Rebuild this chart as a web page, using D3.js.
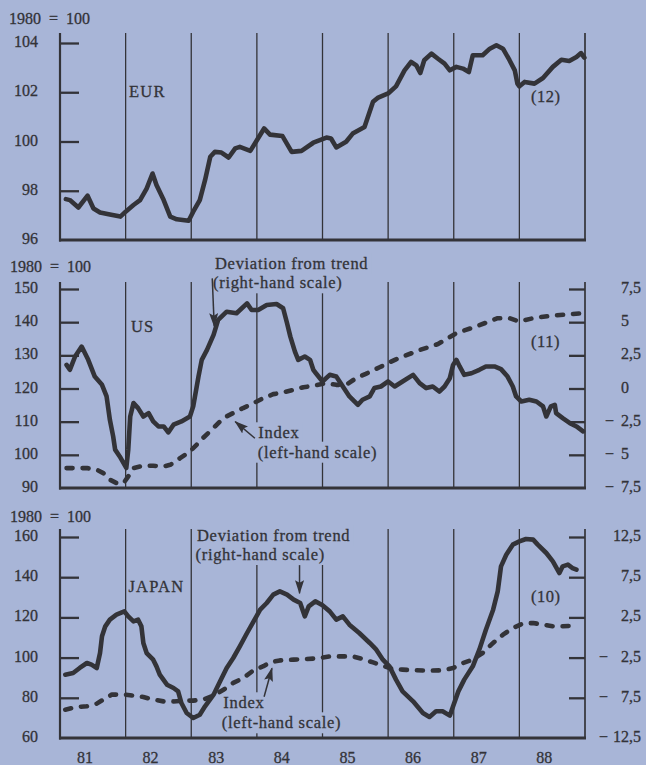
<!DOCTYPE html>
<html>
<head>
<meta charset="utf-8">
<title>Effective exchange rates 1981–88</title>
<script src="https://cdn.jsdelivr.net/npm/d3@7/dist/d3.min.js"></script>
<style>
  html, body { margin: 0; padding: 0; background: #a8b5d7; }
  svg { display: block; }
  text {
    font-family: "Liberation Serif", "Times New Roman", Times, serif;
    fill: #333338; stroke: #333338; stroke-width: 0.3px;
  }
</style>
</head>
<body>
<svg id="chart" width="646" height="765"></svg>
<script>
// ---------------- data (decimal year, value) ----------------
const yearLabels = ["81", "82", "83", "84", "85", "86", "87", "88"];
const labelYears = [1981, 1982, 1983, 1984, 1985, 1986, 1987, 1988];
const yearBreaks = [1982, 1983, 1984, 1985, 1986, 1987, 1988, 1989];

const eurTicks = [96, 98, 100, 102, 104];
const usLeftTicks = [90, 100, 110, 120, 130, 140, 150];
const usRightTicks = [-7.5, -5, -2.5, 0, 2.5, 5, 7.5];
const jpLeftTicks = [60, 80, 100, 120, 140, 160];
const jpRightTicks = [-12.5, -7.5, -2.5, 2.5, 7.5, 12.5];

// EUR effective rate index (1980 = 100)
const eurIndex = [
  [1981.09, 97.66], [1981.15, 97.62], [1981.28, 97.32], [1981.42, 97.80], [1981.51, 97.28],
  [1981.61, 97.12], [1981.76, 97.04], [1981.92, 96.95], [1982.00, 97.15], [1982.12, 97.42],
  [1982.22, 97.62], [1982.32, 98.09], [1982.41, 98.70], [1982.47, 98.23], [1982.58, 97.62],
  [1982.68, 96.95], [1982.78, 96.84], [1982.96, 96.78], [1983.03, 97.15], [1983.13, 97.62],
  [1983.21, 98.43], [1983.29, 99.38], [1983.36, 99.58], [1983.46, 99.55], [1983.57, 99.35],
  [1983.67, 99.72], [1983.74, 99.78], [1983.90, 99.62], [1984.00, 100.05], [1984.11, 100.53],
  [1984.20, 100.28], [1984.39, 100.22], [1984.53, 99.58], [1984.68, 99.62], [1984.86, 99.95],
  [1985.06, 100.16], [1985.13, 100.12], [1985.21, 99.76], [1985.36, 99.99], [1985.46, 100.32],
  [1985.64, 100.59], [1985.77, 101.61], [1985.84, 101.77], [1986.00, 101.95], [1986.12, 102.24],
  [1986.25, 102.89], [1986.35, 103.23], [1986.43, 103.09], [1986.49, 102.78], [1986.55, 103.30],
  [1986.66, 103.57], [1986.76, 103.36], [1986.86, 103.16], [1986.94, 102.89], [1987.04, 103.03],
  [1987.14, 102.96], [1987.23, 102.82], [1987.29, 103.50], [1987.44, 103.50], [1987.55, 103.77],
  [1987.65, 103.91], [1987.75, 103.77], [1987.85, 103.30], [1987.93, 102.89], [1987.97, 102.35],
  [1988.00, 102.24], [1988.08, 102.42], [1988.23, 102.35], [1988.36, 102.58], [1988.51, 103.03],
  [1988.64, 103.32], [1988.76, 103.27], [1988.87, 103.43], [1988.94, 103.59], [1988.99, 103.41]
];

// US: index (left-hand scale) and deviation from trend (right-hand scale)
const usIndex = [
  [1981.10, 96.0], [1981.25, 96.0], [1981.41, 96.0], [1981.56, 95.5], [1981.66, 94.5],
  [1981.76, 92.5], [1981.86, 91.5], [1981.97, 91.5], [1982.04, 93.5], [1982.12, 96.0],
  [1982.27, 96.7], [1982.42, 96.7], [1982.58, 96.5], [1982.68, 97.0], [1982.83, 99.0],
  [1982.98, 101.0], [1983.08, 103.0], [1983.18, 105.1], [1983.34, 108.1], [1983.49, 111.1],
  [1983.64, 112.6], [1983.79, 114.1], [1983.95, 115.6], [1984.10, 117.1], [1984.25, 118.3],
  [1984.40, 118.8], [1984.56, 119.6], [1984.71, 120.4], [1984.86, 120.8], [1985.05, 121.6],
  [1985.21, 121.1], [1985.36, 121.1], [1985.51, 123.1], [1985.66, 124.4], [1985.87, 126.4],
  [1986.12, 128.8], [1986.48, 131.6], [1986.76, 133.4], [1987.04, 136.7], [1987.34, 138.7],
  [1987.67, 141.2], [1987.85, 141.2], [1988.00, 140.2], [1988.21, 141.2], [1988.46, 141.9],
  [1988.77, 142.4], [1988.97, 142.7]
];
const usDeviation = [
  [1981.10, 1.78], [1981.15, 1.41], [1981.23, 2.41], [1981.33, 3.16], [1981.43, 2.16],
  [1981.53, 0.90], [1981.64, 0.28], [1981.71, -0.60], [1981.76, -2.36], [1981.81, -3.61],
  [1981.84, -4.61], [1981.91, -5.12], [1982.01, -5.99], [1982.04, -4.61], [1982.07, -2.11],
  [1982.12, -1.10], [1982.19, -1.48], [1982.27, -2.11], [1982.35, -1.86], [1982.42, -2.48],
  [1982.50, -2.86], [1982.58, -2.86], [1982.65, -3.31], [1982.73, -2.73], [1982.85, -2.48],
  [1982.98, -2.11], [1983.03, -1.35], [1983.11, 0.90], [1983.16, 2.16], [1983.24, 2.91],
  [1983.34, 4.04], [1983.41, 5.17], [1983.54, 5.79], [1983.69, 5.67], [1983.85, 6.42],
  [1983.92, 5.92], [1984.02, 5.92], [1984.15, 6.30], [1984.30, 6.37], [1984.40, 6.05],
  [1984.46, 4.92], [1984.51, 3.91], [1984.58, 2.78], [1984.63, 2.16], [1984.73, 2.41],
  [1984.81, 2.16], [1984.86, 1.41], [1984.90, 1.15], [1985.00, 0.53], [1985.11, 1.03],
  [1985.21, 0.90], [1985.31, 0.15], [1985.41, -0.60], [1985.54, -1.23], [1985.61, -0.85],
  [1985.72, -0.60], [1985.79, 0.03], [1985.89, 0.15], [1986.00, 0.53], [1986.10, 0.15],
  [1986.22, 0.53], [1986.38, 1.03], [1986.48, 0.40], [1986.58, 0.03], [1986.68, 0.15],
  [1986.78, -0.23], [1986.86, 0.15], [1986.94, 0.78], [1986.99, 1.78], [1987.04, 2.16],
  [1987.09, 1.66], [1987.16, 1.03], [1987.27, 1.15], [1987.39, 1.41], [1987.49, 1.66],
  [1987.62, 1.66], [1987.72, 1.46], [1987.82, 0.90], [1987.90, 0.15], [1987.95, -0.60],
  [1988.03, -0.98], [1988.15, -0.85], [1988.26, -0.98], [1988.36, -1.35], [1988.41, -2.11],
  [1988.48, -1.35], [1988.54, -1.23], [1988.56, -1.86], [1988.66, -2.23], [1988.77, -2.61],
  [1988.87, -2.86], [1988.97, -3.23]
];

// Japan: index (left-hand scale) and deviation from trend (right-hand scale)
const japanIndex = [
  [1981.08, 74.1], [1981.25, 75.4], [1981.41, 75.8], [1981.56, 77.1], [1981.66, 79.1],
  [1981.79, 81.6], [1981.97, 81.6], [1982.12, 81.1], [1982.27, 80.4], [1982.42, 79.1],
  [1982.58, 78.2], [1982.73, 78.2], [1982.88, 78.6], [1983.03, 78.6], [1983.18, 79.1],
  [1983.34, 81.1], [1983.49, 84.0], [1983.64, 87.4], [1983.79, 89.8], [1983.95, 93.7],
  [1984.10, 95.7], [1984.20, 97.6], [1984.35, 98.6], [1984.56, 99.0], [1984.76, 99.3],
  [1984.91, 99.6], [1985.11, 100.6], [1985.31, 100.6], [1985.46, 100.6], [1985.61, 99.3],
  [1985.77, 97.6], [1985.92, 96.0], [1986.07, 94.3], [1986.22, 94.0], [1986.43, 93.7],
  [1986.63, 93.5], [1986.83, 93.7], [1986.99, 94.8], [1987.14, 97.3], [1987.29, 99.0],
  [1987.44, 102.3], [1987.60, 107.3], [1987.75, 111.4], [1987.90, 114.7], [1988.05, 116.9],
  [1988.21, 117.2], [1988.36, 116.4], [1988.51, 115.6], [1988.66, 115.6], [1988.87, 115.9]
];
const japanDeviation = [
  [1981.08, -4.62], [1981.20, -4.42], [1981.30, -3.79], [1981.41, -3.17], [1981.48, -3.38],
  [1981.56, -3.79], [1981.61, -1.93], [1981.64, 0.15], [1981.69, 1.39], [1981.76, 2.22],
  [1981.86, 2.84], [1981.98, 3.25], [1982.04, 2.63], [1982.12, 2.01], [1982.19, 2.22],
  [1982.24, 1.39], [1982.27, -0.68], [1982.32, -1.93], [1982.42, -2.76], [1982.47, -3.59],
  [1982.52, -4.62], [1982.63, -5.87], [1982.73, -6.28], [1982.80, -6.70], [1982.85, -8.15],
  [1982.93, -9.39], [1983.03, -10.01], [1983.13, -9.60], [1983.21, -8.56], [1983.34, -7.11],
  [1983.44, -5.45], [1983.54, -3.79], [1983.64, -2.55], [1983.74, -1.10], [1983.85, 0.56],
  [1983.95, 2.01], [1984.05, 3.46], [1984.15, 4.29], [1984.25, 5.33], [1984.35, 5.74],
  [1984.46, 5.33], [1984.56, 4.71], [1984.66, 4.29], [1984.73, 2.63], [1984.79, 3.88],
  [1984.89, 4.50], [1985.00, 4.00], [1985.11, 3.25], [1985.21, 2.22], [1985.31, 2.63],
  [1985.41, 1.60], [1985.56, 0.56], [1985.72, -0.68], [1985.82, -1.51], [1985.92, -2.76],
  [1986.02, -3.59], [1986.12, -5.24], [1986.22, -6.70], [1986.38, -7.94], [1986.53, -9.39],
  [1986.63, -9.89], [1986.73, -9.18], [1986.83, -9.18], [1986.94, -9.72], [1986.99, -8.56],
  [1987.07, -6.70], [1987.16, -5.24], [1987.29, -3.59], [1987.39, -1.51], [1987.49, 0.97],
  [1987.60, 3.46], [1987.67, 5.74], [1987.72, 8.85], [1987.80, 10.30], [1987.90, 11.55],
  [1988.00, 11.96], [1988.10, 12.25], [1988.21, 12.17], [1988.28, 11.55], [1988.41, 10.51],
  [1988.51, 9.47], [1988.61, 8.02], [1988.66, 8.85], [1988.74, 9.06], [1988.81, 8.64],
  [1988.87, 8.44]
];

// ---------------- drawing ----------------
const paper = "#a8b5d7";
const ink = "#333338";
const svg = d3.select("#chart");
svg.append("rect").attr("width", 646).attr("height", 765).attr("fill", paper);

svg.append("defs").append("marker")
  .attr("id", "arrowhead")
  .attr("viewBox", "0 0 14 9")
  .attr("refX", 13).attr("refY", 4.5)
  .attr("markerWidth", 14).attr("markerHeight", 9)
  .attr("markerUnits", "userSpaceOnUse")
  .attr("orient", "auto")
  .append("path").attr("d", "M0,0 L14,4.5 L0,9 L2.5,4.5 Z").attr("fill", ink);

const x = d3.scaleLinear().domain([1981, 1989]).range([60, 585]);

const gridLayer = svg.append("g");
const maskLayer = svg.append("g");
const lineLayer = svg.append("g");
const textLayer = svg.append("g");

const panels = [
  {
    top: 33, tickTop: 43, bottom: 240,
    leftTicks: eurTicks, rightTicks: null,
    series: [{ data: eurIndex, side: "left", dashed: false }],
    base: { x: 9, y: 24 },
    name: { text: "EUR", x: 129, y: 97 },
    count: { text: "(12)", x: 531, y: 102 },
    notes: [], arrows: []
  },
  {
    top: 282, tickTop: 289, bottom: 488,
    leftTicks: usLeftTicks, rightTicks: usRightTicks, minusX: 605,
    series: [
      { data: usIndex, side: "left", dashed: true },
      { data: usDeviation, side: "right", dashed: false }
    ],
    base: { x: 10, y: 272 },
    name: { text: "US", x: 131, y: 332 },
    count: { text: "(11)", x: 531, y: 347 },
    notes: [
      { text: "Deviation from trend", x: 215, y: 269 },
      { text: "(right-hand scale)", x: 213, y: 288.3 },
      { text: "Index", x: 258.3, y: 438.3 },
      { text: "(left-hand scale)", x: 257.7, y: 457.7 }
    ],
    arrows: [
      { side: "right", from: [1983.32, 8.3], to: [1983.35, 4.7] },
      { side: "left", from: [1983.97, 105.0], to: [1983.67, 110.0] }
    ]
  },
  {
    top: 529, tickTop: 537, bottom: 738,
    leftTicks: jpLeftTicks, rightTicks: jpRightTicks, minusX: 599,
    series: [
      { data: japanIndex, side: "left", dashed: true },
      { data: japanDeviation, side: "right", dashed: false }
    ],
    base: { x: 10, y: 522 },
    name: { text: "JAPAN", x: 128.5, y: 592 },
    count: { text: "(10)", x: 531, y: 602 },
    notes: [
      { text: "Deviation from trend", x: 197, y: 541 },
      { text: "(right-hand scale)", x: 195.5, y: 560 },
      { text: "Index", x: 223.3, y: 708.3 },
      { text: "(left-hand scale)", x: 221.7, y: 728.3 }
    ],
    arrows: [
      { side: "right", from: [1984.65, 9.0], to: [1984.65, 5.5] },
      { side: "left", from: [1984.11, 80.5], to: [1984.23, 94.7] }
    ]
  }
];

panels.forEach(p => {
  const lt = p.leftTicks;
  const yL = d3.scaleLinear().domain([lt[0], lt[lt.length - 1]]).range([p.bottom, p.tickTop]);
  let yR = null;
  if (p.rightTicks) {
    const rt = p.rightTicks;
    yR = d3.scaleLinear().domain([rt[0], rt[rt.length - 1]]).range([p.bottom, p.tickTop]);
  }
  const yOf = side => (side === "left" ? yL : yR);

  // year separators (last one is the right-hand frame)
  gridLayer.append("g").selectAll("line").data(yearBreaks).join("line")
    .attr("x1", d => x(d)).attr("x2", d => x(d))
    .attr("y1", p.top).attr("y2", p.bottom)
    .attr("stroke", ink).attr("stroke-width", d => d === 1989 ? 1.7 : 1.3);

  // left and bottom frame
  gridLayer.append("line")
    .attr("x1", x(1981)).attr("x2", x(1981)).attr("y1", p.top).attr("y2", p.bottom + 1.5)
    .attr("stroke", ink).attr("stroke-width", 2.2);
  gridLayer.append("line")
    .attr("x1", x(1981) - 1).attr("x2", x(1989) + 1).attr("y1", p.bottom).attr("y2", p.bottom)
    .attr("stroke", ink).attr("stroke-width", 3);

  // left tick marks (inside) and labels
  const axL = d3.axisLeft(yL).tickValues(lt.slice(1)).tickSize(-19).tickFormat("");
  const gL = gridLayer.append("g").attr("transform", `translate(${x(1981)},0)`).call(axL);
  gL.select(".domain").remove();
  gL.selectAll(".tick line").attr("stroke", ink).attr("stroke-width", 2.3);
  gL.selectAll(".tick text").remove();

  textLayer.append("g").selectAll("text").data(lt).join("text")
    .attr("x", 38).attr("y", d => yL(d) + 4)
    .attr("text-anchor", "end").attr("font-size", 16)
    .text(d => d);

  // right tick marks and decimal-aligned labels
  if (yR) {
    const rt = p.rightTicks;
    const axR = d3.axisRight(yR).tickValues(rt.slice(1)).tickSize(-16).tickFormat("");
    const gR = gridLayer.append("g").attr("transform", `translate(${x(1989)},0)`).call(axR);
    gR.select(".domain").remove();
    gR.selectAll(".tick line").attr("stroke", ink).attr("stroke-width", 2.3);
    gR.selectAll(".tick text").remove();

    const gRL = textLayer.append("g").attr("font-size", 16);
    rt.forEach(v => {
      const y = yR(v) + 4;
      const a = Math.abs(v);
      const whole = Math.trunc(a);
      const frac = Math.round((a - whole) * 10);
      gRL.append("text").attr("x", 629).attr("y", y).attr("text-anchor", "end").text(whole);
      if (frac) gRL.append("text").attr("x", 629).attr("y", y).text("," + frac);
      if (v < 0) gRL.append("text").attr("x", p.minusX).attr("y", y).text("\u2212");
    });
  }

  // base-year caption, panel name and country count
  textLayer.append("text").attr("x", p.base.x).attr("y", p.base.y).attr("font-size", 16)
    .text("1980\u2002=\u2002100");
  textLayer.append("text").attr("x", p.name.x).attr("y", p.name.y)
    .attr("font-size", 16.5).attr("letter-spacing", 1.2).text(p.name.text);
  textLayer.append("text").attr("x", p.count.x).attr("y", p.count.y)
    .attr("font-size", 16.5).attr("letter-spacing", 0.5).text(p.count.text);

  // annotation text, with paper-coloured backing that breaks the rules behind it
  p.notes.forEach(n => {
    const t = textLayer.append("text").attr("x", n.x).attr("y", n.y)
      .attr("font-size", 16.5).attr("letter-spacing", 0.7).text(n.text);
    const b = t.node().getBBox();
    maskLayer.append("rect")
      .attr("x", b.x - 3).attr("y", b.y - 1)
      .attr("width", b.width + 6).attr("height", b.height + 2)
      .attr("fill", paper);
  });

  // series
  p.series.forEach(s => {
    const y = yOf(s.side);
    const line = d3.line().x(d => x(d[0])).y(d => y(d[1]));
    lineLayer.append("path").datum(s.data)
      .attr("d", line)
      .attr("fill", "none")
      .attr("stroke", ink)
      .attr("stroke-width", 4.6)
      .attr("stroke-linejoin", "round")
      .attr("stroke-linecap", "round")
      .attr("stroke-dasharray", s.dashed ? "6 10" : null);
  });

  // pointer arrows
  p.arrows.forEach(a => {
    const y = yOf(a.side);
    lineLayer.append("line")
      .attr("x1", x(a.from[0])).attr("y1", y(a.from[1]))
      .attr("x2", x(a.to[0])).attr("y2", y(a.to[1]))
      .attr("stroke", ink).attr("stroke-width", 1.5)
      .attr("marker-end", "url(#arrowhead)");
  });
});

// year labels along the bottom
textLayer.append("g").selectAll("text").data(labelYears).join("text")
  .attr("x", d => x(d + 0.38)).attr("y", 763)
  .attr("text-anchor", "middle").attr("font-size", 16)
  .text((d, i) => yearLabels[i]);
</script>
</body>
</html>
